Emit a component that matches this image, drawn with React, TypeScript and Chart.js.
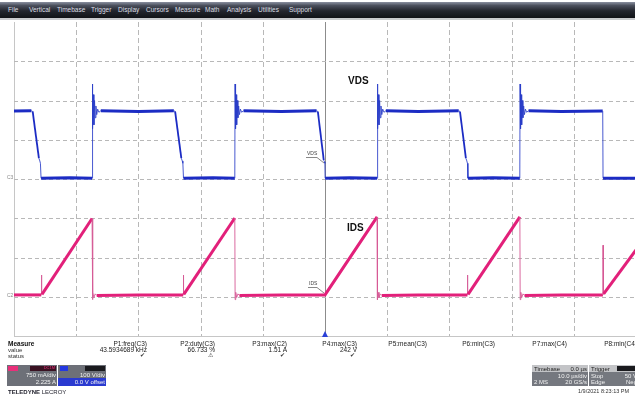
import React, { useEffect, useRef } from 'react';
import { Chart, registerables } from 'chart.js';

Chart.register(...registerables);

// ---- Data (time in µs, VDS in volts, IDS in amps) ----
const vdsTime = [
  -50.0, -47.2, -47.0, -46.0, -45.85, -45.75, -45.65, -41.0, -37.45,
  -37.41, -37.33, -37.25, -37.15, -37.05, -36.95, -36.83, -36.7, -36.55, -36.35, -36.05,
  -30.0, -24.3, -24.1, -23.1, -22.95, -22.85, -22.75, -18.0, -14.5,
  -14.46, -14.38, -14.3, -14.2, -14.1, -14.0, -13.88, -13.75, -13.6, -13.4, -13.1,
  -7.0, -1.35, -1.15, -0.2, -0.1, -0.02, 0.02, 4.0, 8.38,
  8.42, 8.5, 8.58, 8.68, 8.78, 8.88, 9.0, 9.13, 9.28, 9.48, 9.78,
  15.0, 21.5, 21.7, 22.65, 22.8, 22.9, 22.98, 27.0, 31.32,
  31.36, 31.44, 31.52, 31.62, 31.72, 31.82, 31.94, 32.07, 32.22, 32.42, 32.72,
  38.0, 44.65, 44.7, 50.0,
];
const vdsVolts = [
  173, 174, 172, 53, 46, 40, 2, 3, 2,
  242, 128, 215, 138, 200, 156, 186, 164, 178, 170, 174,
  172, 174, 172, 53, 46, 40, 2, 3, 2,
  242, 128, 215, 138, 200, 156, 186, 164, 178, 170, 174,
  172, 174, 172, 48, 44, 40, 2, 3, 2,
  242, 128, 215, 138, 200, 156, 186, 164, 178, 170, 174,
  172, 174, 172, 53, 46, 40, 2, 3, 2,
  242, 128, 215, 138, 200, 156, 186, 164, 178, 170, 174,
  172, 173, 2, 2,
];
const idsTime = [
  -50.0, -45.62, -45.6, -45.58, -45.5, -37.45, -37.4, -37.3, -37.15, -36.95, -36.7,
  -30.0, -22.8, -22.78, -22.76, -22.7, -14.5, -14.45, -14.35, -14.2, -14.0, -13.75,
  -7.0, 0.0, 8.38, 8.43, 8.53, 8.68, 8.88, 9.13,
  15.0, 22.9, 22.92, 22.94, 23.0, 31.33, 31.38, 31.48, 31.63, 31.83, 32.08,
  38.0, 44.68, 44.7, 44.72, 44.8, 50.0,
];
const idsAmps = [
  0.01, 0.01, 0.39, 0.01, 0.02, 1.47, -0.08, 0.06, -0.04, 0.03, 0.0,
  0.01, 0.01, 0.39, 0.01, 0.02, 1.48, -0.08, 0.06, -0.04, 0.03, 0.0,
  0.01, 0.01, 1.5, -0.08, 0.06, -0.04, 0.03, 0.0,
  0.01, 0.01, 0.39, 0.01, 0.02, 1.5, -0.08, 0.06, -0.04, 0.03, 0.0,
  0.01, 0.01, 0.96, 0.02, 0.03, 0.87,
];

const timeGrid = [-50, -40, -30, -20, -10, 0, 10, 20, 30, 40, 50];
const voltGrid = [-400, -300, -200, -100, 0, 100, 200, 300, 400];

const menuItems = ['File', 'Vertical', 'Timebase', 'Trigger', 'Display', 'Cursors', 'Measure', 'Math', 'Analysis', 'Utilities', 'Support'];
const menuX = [8, 29, 57, 91, 118, 146, 175, 205, 227, 258, 289];

const measureNames = ['P1:freq(C3)', 'P2:duty(C3)', 'P3:max(C2)', 'P4:max(C3)', 'P5:mean(C3)', 'P6:min(C3)', 'P7:max(C4)', 'P8:min(C4)'];
const measureValues = ['43.5934689 kHz', '66.733 %', '1.51 A', '242 V', '', '', '', ''];
const measureStatus = ['✔', '⚠', '✔', '✔', '', '', '', ''];
const measureRight = [147, 215, 287, 357, 427, 495, 567, 637];

const W = 635;
const H = 402;
const FONT = '"Liberation Sans", Arial, Helvetica, sans-serif';
const BLUE = 'rgb(28, 44, 196)';
const BLUE_THIN = 'rgba(40, 60, 200, 0.85)';
const PINK = 'rgb(226, 32, 122)';
const PINK_THIN = 'rgba(214, 90, 150, 0.9)';

const gridPlugin = {
  id: 'scopeGrid',
  beforeDatasetsDraw(chart: any) {
    const { ctx, chartArea: a, scales } = chart;
    ctx.save();
    ctx.lineWidth = 1;
    timeGrid.forEach((v) => {
      const px = Math.round(scales.x.getPixelForValue(v)) + 0.5;
      if (v === 0) {
        ctx.setLineDash([]);
        ctx.strokeStyle = '#8c8c8c';
      } else if (v === timeGrid[0]) {
        ctx.setLineDash([]);
        ctx.strokeStyle = '#c6c6c6';
      } else {
        ctx.setLineDash([5, 3]);
        ctx.strokeStyle = '#b8b8b8';
      }
      ctx.beginPath();
      ctx.moveTo(px, a.top);
      ctx.lineTo(px, a.bottom);
      ctx.stroke();
    });
    voltGrid.forEach((v) => {
      if (v === voltGrid[voltGrid.length - 1]) return;
      const py = Math.round(scales.yV.getPixelForValue(v)) + 0.5;
      if (v === voltGrid[0]) {
        ctx.setLineDash([]);
        ctx.strokeStyle = '#c6c6c6';
      } else {
        ctx.setLineDash([4, 3]);
        ctx.strokeStyle = '#b8b8b8';
      }
      ctx.beginPath();
      ctx.moveTo(a.left, py);
      ctx.lineTo(a.right, py);
      ctx.stroke();
    });
    ctx.restore();
  },
};

function segWidth(c: any) {
  const dx = Math.abs(c.p1.x - c.p0.x);
  const dy = Math.abs(c.p1.y - c.p0.y);
  if (dx < 2) return 1;
  if (dy > 4 * dx) return 1.8;
  return 3;
}

type TP = { x: number; y: number; size?: number; right?: boolean; bold?: boolean; color?: string; children?: React.ReactNode };
function Txt({ x, y, size = 6, right = false, bold = false, color = '#222', children }: TP) {
  const style: React.CSSProperties = {
    position: 'absolute',
    top: y,
    fontSize: size,
    lineHeight: `${size}px`,
    fontFamily: FONT,
    fontWeight: bold ? 700 : 400,
    color,
    whiteSpace: 'nowrap',
  };
  if (right) style.right = W - x;
  else style.left = x;
  return <div style={style}>{children}</div>;
}

function Box({ x, y, w, h, bg }: { x: number; y: number; w: number; h: number; bg: string }) {
  return <div style={{ position: 'absolute', left: x, top: y, width: w, height: h, background: bg }} />;
}

export default function App() {
  const canvasRef = useRef<HTMLCanvasElement>(null);

  useEffect(() => {
    if (!canvasRef.current) return;
    const chart = new Chart(canvasRef.current, {
      type: 'line',
      data: {
        datasets: [
          {
            label: 'VDS',
            data: vdsTime.map((t, i) => ({ x: t, y: vdsVolts[i] })),
            xAxisID: 'x',
            yAxisID: 'yV',
            borderColor: BLUE,
            borderWidth: 3,
            pointRadius: 0,
            tension: 0,
            segment: {
              borderWidth: (c: any) => segWidth(c),
              borderColor: (c: any) => (segWidth(c) === 1 ? BLUE_THIN : BLUE),
            },
          },
          {
            label: 'IDS',
            data: idsTime.map((t, i) => ({ x: t, y: idsAmps[i] })),
            xAxisID: 'x',
            yAxisID: 'yI',
            borderColor: PINK,
            borderWidth: 3,
            pointRadius: 0,
            tension: 0,
            segment: {
              borderWidth: (c: any) => segWidth(c),
              borderColor: (c: any) => (segWidth(c) === 1 ? PINK_THIN : PINK),
            },
          },
        ],
      } as any,
      options: {
        animation: false,
        responsive: true,
        maintainAspectRatio: false,
        events: [],
        layout: { padding: { left: 14, top: 22, right: 14, bottom: 9 } },
        plugins: { legend: { display: false }, tooltip: { enabled: false } },
        scales: {
          x: { type: 'linear', min: -50, max: 50, display: false },
          yV: { type: 'linear', min: -400, max: 400, display: false },
          yI: { type: 'linear', min: -0.775, max: 5.225, display: false },
        },
      } as any,
      plugins: [gridPlugin],
    });
    return () => chart.destroy();
  }, []);

  return (
    <div style={{ position: 'fixed', left: 0, top: 0, width: W, height: H, overflow: 'hidden', background: '#fff', fontFamily: FONT }}>
      <div style={{ position: 'absolute', left: 0, top: 0, width: 650, height: 345 }}>
        <canvas ref={canvasRef} />
      </div>

      {/* menu bar */}
      <div
        style={{
          position: 'absolute',
          left: 0,
          top: 2,
          width: W,
          height: 16,
          background: 'linear-gradient(to bottom, #8a90a0 0%, #4b505d 22%, #23262e 55%, #111317 100%)',
          borderBottom: '2px solid #c9cbce',
        }}
      />
      {menuItems.map((m, i) => (
        <Txt key={m} x={menuX[i]} y={7} size={6.5} color="#dcdfe4">
          {m}
        </Txt>
      ))}

      {/* channel markers */}
      <Txt x={7} y={175} size={5} color="#8a8a8a">C3</Txt>
      <Txt x={7} y={293} size={5} color="#8a8a8a">C2</Txt>

      {/* waveform labels */}
      <Txt x={348} y={76} size={10} bold color="#111">VDS</Txt>
      <Txt x={347} y={223} size={10} bold color="#111">IDS</Txt>
      <Txt x={307} y={151} size={5} color="#444">VDS</Txt>
      <Txt x={309} y={281} size={5} color="#444">IDS</Txt>
      <svg style={{ position: 'absolute', left: 0, top: 0 }} width={W} height={H}>
        <polyline points="306,157.5 317,157.5 324,163" fill="none" stroke="#555" strokeWidth={0.7} />
        <polyline points="308,287.5 317,287.5 324,293" fill="none" stroke="#555" strokeWidth={0.7} />
        <polygon points="325,331 322,337 328,337" fill="#2a40d8" />
      </svg>

      {/* measurement table */}
      <Txt x={8} y={341} size={6.5} bold color="#111">Measure</Txt>
      <Txt x={8} y={347} size={6} color="#333">value</Txt>
      <Txt x={8} y={352.5} size={6} color="#333">status</Txt>
      {measureNames.map((n, i) => (
        <React.Fragment key={n}>
          <Txt x={measureRight[i]} y={341} size={6.5} right color="#222">{n}</Txt>
          <Txt x={measureRight[i]} y={347} size={6.5} right color="#222">{measureValues[i]}</Txt>
          <Txt x={measureRight[i] - 2} y={353} size={5.5} right color="#333">{measureStatus[i]}</Txt>
        </React.Fragment>
      ))}

      {/* C2 descriptor */}
      <Box x={7} y={365} w={50} h={21} bg="#6d7078" />
      <Box x={8} y={366} w={10} h={5} bg="#e8307a" />
      <Box x={30} y={366} w={26} h={5} bg="#3a1222" />
      <Txt x={55} y={366} size={4} right color="#e8307a">DC1M</Txt>
      <Txt x={56} y={372} size={6} right color="#f2f2f2">750 mA/div</Txt>
      <Txt x={56} y={379} size={6} right color="#f2f2f2">2.225 A</Txt>

      {/* C3 descriptor */}
      <Box x={58} y={365} w={48} h={21} bg="#6d7078" />
      <Box x={60} y={366} w={8} h={5} bg="#2438e0" />
      <Box x={85} y={366} w={20} h={5} bg="#1a1a1e" />
      <Box x={58} y={378} w={48} h={8} bg="#2a3ad0" />
      <Txt x={105} y={372} size={6} right color="#f2f2f2">100 V/div</Txt>
      <Txt x={105} y={379} size={6} right color="#f2f2f2">0.0 V offset</Txt>

      <div style={{ position: 'absolute', left: 8, top: 389, fontSize: 6, lineHeight: '6px', fontFamily: FONT, color: '#1c1c28', whiteSpace: 'nowrap' }}>
        <b>TELEDYNE</b> LECROY
      </div>

      {/* Timebase box */}
      <Box x={532} y={365} w={56} h={21} bg="#75787f" />
      <Box x={532} y={365} w={56} h={7} bg="#c3c4c7" />
      <Txt x={534} y={366} size={6} color="#222">Timebase</Txt>
      <Txt x={587} y={366} size={6} right color="#222">0.0 µs</Txt>
      <Txt x={587} y={372.5} size={6} right color="#f2f2f2">10.0 µs/div</Txt>
      <Txt x={534} y={379} size={6} color="#f2f2f2">2 MS</Txt>
      <Txt x={587} y={379} size={6} right color="#f2f2f2">20 GS/s</Txt>

      {/* Trigger box */}
      <Box x={589} y={365} w={50} h={21} bg="#75787f" />
      <Box x={589} y={365} w={50} h={7} bg="#c3c4c7" />
      <Box x={617} y={366} w={20} h={5} bg="#1a1a1e" />
      <Txt x={591} y={366} size={6} color="#222">Trigger</Txt>
      <Txt x={591} y={372.5} size={6} color="#f2f2f2">Stop</Txt>
      <Txt x={637} y={372.5} size={6} right color="#f2f2f2">50 V</Txt>
      <Txt x={591} y={379} size={6} color="#f2f2f2">Edge</Txt>
      <Txt x={637} y={379} size={6} right color="#f2f2f2">Neg</Txt>

      <Txt x={578} y={389} size={5.5} color="#333">1/9/2021 8:23:13 PM</Txt>
    </div>
  );
}
